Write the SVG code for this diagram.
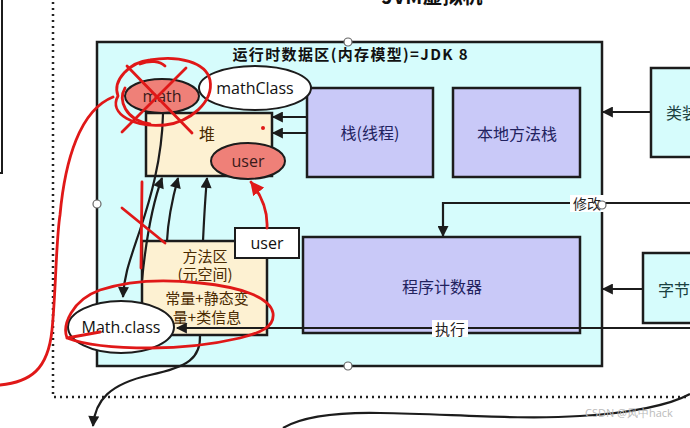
<svg xmlns="http://www.w3.org/2000/svg" width="690" height="428" viewBox="0 0 690 428">
<style>
.cn{font-family:"Noto Sans CJK SC","Noto Sans",sans-serif;}
.lat{font-family:"Open Sans","Noto Sans",sans-serif;}
.box{stroke:#1c1c1c;stroke-width:2.5;}
.lav{fill:#c9c9f8;}
.cyan{fill:#d6fcfc;}
.cream{fill:#fdf1d2;}
.salmon{fill:#ef8078;stroke:#1c1c1c;stroke-width:2;}
.white{fill:#fff;stroke:#1c1c1c;stroke-width:2;}
.conn{fill:none;stroke:#1c1c1c;stroke-width:2.2;}
.red{fill:none;stroke:#e01818;stroke-width:2.8;stroke-linecap:round;stroke-linejoin:round;}
.handle{fill:#fff;stroke:#666;stroke-width:1.2;}
.lbl{font-size:16px;text-anchor:middle;dominant-baseline:central;}
.ma{font-size:15px;text-anchor:middle;dominant-baseline:central;}
</style>
<defs>
<marker id="ah" viewBox="0 0 10 10" refX="9" refY="5" markerWidth="5.5" markerHeight="5" orient="auto" markerUnits="strokeWidth">
<path d="M0,0 L10,5 L0,10 z" fill="#1c1c1c"/>
</marker>
<marker id="ahr" viewBox="0 0 10 10" refX="9" refY="5" markerWidth="5" markerHeight="5" orient="auto" markerUnits="strokeWidth">
<path d="M0,0 L10,5 L0,10 z" fill="#e01818"/>
</marker>
</defs>
<rect width="690" height="428" fill="#fff"/>

<g id="jvm">
<rect x="53" y="-30" width="700" height="427" fill="none" stroke="#222" stroke-width="2.5" stroke-dasharray="2 4"/>
<text x="432" y="4" class="cn" font-size="20" font-weight="bold" text-anchor="middle" fill="#111">JVM虚拟机</text>
</g>

<g id="leftBox">
<rect x="-10" y="-10" width="12" height="183" fill="#fff" stroke="#1c1c1c" stroke-width="2"/>
</g>

<g id="runtime">
<rect x="97" y="42" width="505" height="324" class="box cyan"/>
<text x="350" y="53" class="cn" font-size="15" font-weight="bold" text-anchor="middle" dominant-baseline="central" fill="#111" textLength="235">运行时数据区(内存模型)=JDK 8</text>
</g>

<g id="heap">
<rect x="146" y="113" width="126" height="63" class="box cream"/>
<text x="207" y="133" class="cn lbl" fill="#4a2a00">堆</text>
<circle cx="157" cy="109" r="2" fill="#e01818"/>
<circle cx="263" cy="128" r="2" fill="#e01818"/>
</g>

<g id="stack">
<rect x="307" y="88" width="126" height="89" class="box lav"/>
<text x="370" y="132" class="cn lbl" fill="#22225e">栈(线程)</text>
</g>

<g id="nativeStack">
<rect x="453" y="88" width="127" height="89" class="box lav"/>
<text x="517" y="133" class="cn lbl" fill="#22225e">本地方法栈</text>
</g>

<g id="pc">
<rect x="303" y="237" width="277" height="96" class="box lav"/>
<text x="442" y="286" class="cn lbl" fill="#22225e">程序计数器</text>
</g>

<g id="methodArea">
<rect x="142" y="241" width="125" height="94" class="box cream"/>
<text x="205" y="255" class="cn ma" fill="#4a2a00">方法区</text>
<text x="205" y="273" class="cn ma" fill="#4a2a00">(元空间)</text>
<text x="207" y="297" class="cn ma" fill="#4a2a00">常量+静态变</text>
<text x="207" y="316" class="cn ma" fill="#4a2a00">量+类信息</text>
</g>

<g id="userBox">
<rect x="235" y="228" width="64" height="30" class="white"/>
<text x="267" y="243" class="lat lbl" fill="#111">user</text>
</g>

<g id="classLoader">
<rect x="651" y="68" width="60" height="89" class="box cyan"/>
<text x="666" y="112" class="cn" font-size="16" dominant-baseline="central" fill="#1a4040">类装</text>
</g>

<g id="bytecode">
<rect x="643" y="253" width="60" height="70" class="box cyan"/>
<text x="658" y="289" class="cn" font-size="16" dominant-baseline="central" fill="#1a4040">字节</text>
</g>

<g id="connectors">
<line x1="307" y1="117" x2="273" y2="117" class="conn" marker-end="url(#ah)"/>
<line x1="307" y1="133" x2="273" y2="133" class="conn" marker-end="url(#ah)"/>
<line x1="651" y1="112" x2="603" y2="112" class="conn" marker-end="url(#ah)"/>
<line x1="643" y1="289" x2="603" y2="289" class="conn" marker-end="url(#ah)"/>
<path d="M690,203 L443,203 L443,236" class="conn" marker-end="url(#ah)"/>
<line x1="690" y1="328" x2="177" y2="328" class="conn" marker-end="url(#ah)"/>
<path d="M163,114 C162,160 150,200 140,230 C130,260 124,275 123,297" class="conn" marker-end="url(#ah)"/>
<path d="M142,280 C146,240 152,205 162,178" class="conn" marker-end="url(#ah)"/>
<path d="M167,241 C168,220 172,200 178,178" class="conn" marker-end="url(#ah)"/>
<path d="M203,241 C204,220 205,200 207,178" class="conn" marker-end="url(#ah)"/>
<path d="M200,335 C201,358 188,367 150,375 C110,384 95,400 93,426" class="conn" marker-end="url(#ah)"/>
<path d="M283,428 C300,418 330,412 380,413 C450,414 520,420 580,416 C630,413 670,405 690,394" class="conn"/>
<rect x="570" y="195" width="34" height="17" fill="#fff"/>
<text x="587" y="203" class="cn" font-size="14" text-anchor="middle" dominant-baseline="central" fill="#222">修改</text>
<rect x="432" y="320" width="36" height="17" fill="#fff"/>
<text x="450" y="328" class="cn" font-size="15" text-anchor="middle" dominant-baseline="central" fill="#222">执行</text>
</g>

<g id="mathClass">
<ellipse cx="255" cy="88" rx="56" ry="22" class="white"/>
<text x="255" y="88" class="lat lbl" fill="#111">mathClass</text>
</g>

<g id="math">
<ellipse cx="162" cy="96" rx="37" ry="17" class="salmon"/>
<text x="162" y="96" class="lat lbl" fill="#3a1a1a">math</text>
</g>

<g id="user">
<ellipse cx="248" cy="161" rx="37" ry="18" class="salmon"/>
<text x="248" y="161" class="lat lbl" fill="#3a1a1a">user</text>
</g>

<g id="mathClassFile">
<ellipse cx="121" cy="327" rx="53" ry="26" class="white"/>
<text x="121" y="327" class="lat lbl" fill="#111">Math.class</text>
</g>

<g id="handles">
<circle cx="97" cy="204" r="4" class="handle"/>
<circle cx="348" cy="42" r="4" class="handle"/>
<circle cx="348" cy="366" r="4" class="handle"/>
<circle cx="602" cy="205" r="4" class="handle"/>
</g>

<g id="annotations">
<path d="M127,66 L192,133" class="red"/>
<path d="M186,68 L122,132" class="red"/>
<path d="M118,96 C112,80 130,62 150,60 C178,55 206,62 210,80 C214,102 190,122 165,125 C135,128 108,114 118,96" class="red"/>
<path d="M140,64 C150,60 160,61 165,66 M125,88 C118,100 125,120 150,124" class="red"/>
<path d="M0,385 C30,382 48,370 52,330 C56,290 56,240 60,215 C65,160 80,110 113,97" class="red"/>
<path d="M142,182 L141,268" class="red"/>
<path d="M122,208 L165,243" class="red"/>
<path d="M267,228 C268,210 262,196 251,182" class="red" marker-end="url(#ahr)"/>
<path d="M67,338 C62,325 72,300 100,290 C130,280 165,279 200,283 C240,287 270,297 273,313 C275,327 260,333 240,338 C210,345 180,348 150,348 C115,348 85,345 67,338 L100,332" class="red"/>
</g>

<text x="585" y="417" class="lat" font-size="11" fill="#bbb">CSDN @风中hack</text>
</svg>
